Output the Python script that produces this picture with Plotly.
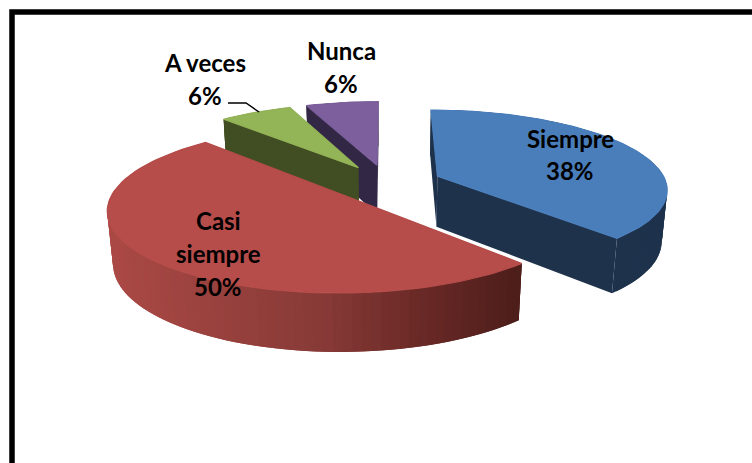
import numpy as np
import plotly.graph_objects as go

categories = ['Siempre', 'Casi siempre', 'A veces', 'Nunca']
values = [38, 50, 6, 6]
top_colors = ['#4A7EBB', '#B64D4A', '#93B457', '#7C5F9C']
side_colors = ['#1E324C', '#4E1E1B', '#414D22', '#322845']

# fake 3D pie: circle in world units, squashed with a bit of perspective
CX, CY = 387, 183
A, B = 229, 78
PERSP = 0.15
HEIGHT = 52
DROP = 0.02
EXPLODE = 0.24
START = 0


def project(x, y, z=0.0):
    s = 1 / (1 + PERSP * y + DROP * z)
    return CX + A * x * s, CY - B * y * s + HEIGHT * z * s


def red_wall_color(px):
    # gradient along the red outer wall, by position on the page
    frac = min(max((px - 105) / 415, 0), 1)
    stops = [(0, (172, 74, 70)), (0.54, (135, 58, 55)), (0.77, (107, 42, 39)), (1, (78, 30, 27))]
    for (f0, c0), (f1, c1) in zip(stops, stops[1:]):
        if frac <= f1:
            t = (frac - f0) / (f1 - f0)
            return 'rgb(%d,%d,%d)' % tuple(c0[i] + t * (c1[i] - c0[i]) for i in range(3))
    return 'rgb(78,30,27)'


fig = go.Figure()


def add_poly(xs, ys, color, width=0.5):
    fig.add_trace(go.Scatter(x=list(xs) + [xs[0]], y=list(ys) + [ys[0]], mode='lines', fill='toself',
                             fillcolor=color, line=dict(color=color, width=width), hoverinfo='skip', showlegend=False))


total = sum(values)
edges = START + np.cumsum([0] + values) / total * 360

# back to front
for i in [3, 2, 0, 1]:
    t0, t1 = np.radians(edges[i]), np.radians(edges[i + 1])
    mid = (t0 + t1) / 2
    ox, oy = EXPLODE * np.sin(mid), EXPLODE * np.cos(mid)
    th = np.linspace(t0, t1, 90 if i < 2 else 12)
    wx, wy = ox + np.sin(th), oy + np.cos(th)

    # radial walls
    for t in (t0, t1):
        ex, ey = ox + np.sin(t), oy + np.cos(t)
        pts = [project(ox, oy), project(ex, ey), project(ex, ey, 1), project(ox, oy, 1)]
        add_poly([p[0] for p in pts], [p[1] for p in pts], side_colors[i], width=0)

    # outer wall in overlapping strips, a single polygon folds over itself at the tangent
    tx, ty = project(wx, wy)
    bx, by = project(wx, wy, 1)
    for j in range(len(th) - 2, -1, -1):
        end = max(j - 1, 0)
        color = red_wall_color(tx[j]) if i == 1 else side_colors[i]
        add_poly([tx[end], tx[j + 1], bx[j + 1], bx[end]], [ty[end], ty[j + 1], by[j + 1], by[end]], color, width=0)

    # top face, stroked so no wall colour bleeds round its back edge
    ax, ay = project(ox, oy)
    add_poly([ax] + list(tx), [ay] + list(ty), top_colors[i], width=1.2)

label_lines = [
    (['Siempre', f'{values[0]}%'], 570, [138, 170]),
    (['Casi', 'siempre', f'{values[1]}%'], 218, [220, 253, 286]),
    (['A veces', f'{values[2]}%'], 205, [62, 95]),
    (['Nunca', f'{values[3]}%'], 341, [50, 83]),
]
for lines, x, ys in label_lines:
    for text, y in zip(lines, ys):
        fig.add_annotation(x=x, y=y, text=text, showarrow=False, xanchor='center', yanchor='middle',
                           font=dict(family='Lato', size=24, color='black', weight='bold'))

fig.add_shape(type='path', path='M 228 103 L 246 103 L 259 112', line=dict(color='black', width=1.5))
fig.add_shape(type='path', path='M 12 480 L 12 12 L 770 12', line=dict(color='black', width=5.5))

fig.update_xaxes(range=[0, 752], visible=False)
fig.update_yaxes(range=[463, 0], visible=False)
fig.update_layout(width=752, height=463, margin=dict(l=0, r=0, t=0, b=0), plot_bgcolor='white',
                  paper_bgcolor='white', showlegend=False)
# the page's default body margin would push the plot 8px in
fig.write_html('out.html', config={'displayModeBar': False}, post_script="document.body.style.margin='0';")
